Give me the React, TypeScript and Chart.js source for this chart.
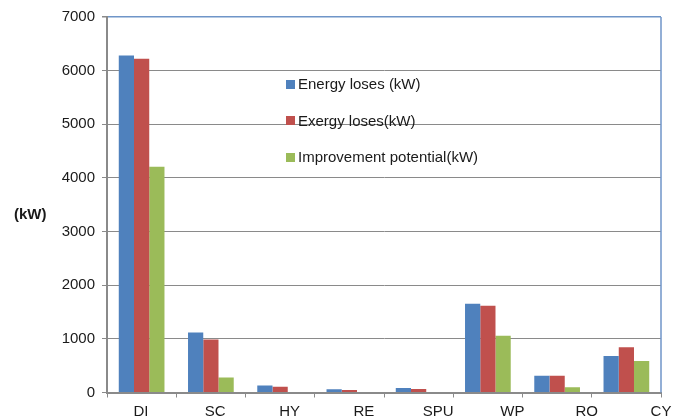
import React, { useEffect, useRef } from "react";
import { Chart, registerables } from "chart.js";

Chart.register(...registerables);

const categories = ["DI", "SC", "HY", "RE", "SPU", "WP", "RO", "CY"];
const energyLoses = [6280, 1120, 130, 60, 85, 1655, 310, 680];
const exergyLoses = [6220, 990, 105, 47, 65, 1615, 310, 845];
const improvementPotential = [4210, 280, 0, 0, 0, 1060, 100, 585];
const yTicks = [0, 1000, 2000, 3000, 4000, 5000, 6000, 7000];

const seriesNames = ["Energy loses (kW)", "Exergy loses(kW)", "Improvement potential(kW)"];
const seriesColors = ["#4F81BD", "#C0504D", "#9BBB59"];

const FONT = "'Liberation Sans', Arial, sans-serif";
const TEXT = "#1a1a1a";
const GRID = "#8a8a8a";
const FRAME = "#6f95c8";

export default function App() {
  const ref = useRef<HTMLCanvasElement | null>(null);

  useEffect(() => {
    if (!ref.current) return;
    const framePlugin = {
      id: "frame",
      afterDraw(chart: any) {
        const { ctx, chartArea } = chart;
        ctx.save();
        ctx.strokeStyle = FRAME;
        ctx.lineWidth = 1.5;
        ctx.beginPath();
        ctx.moveTo(chartArea.right, chartArea.top);
        ctx.lineTo(chartArea.right, chartArea.bottom);
        ctx.stroke();
        ctx.restore();
      },
    };
    const chart = new Chart(ref.current, {
      type: "bar",
      data: {
        labels: categories,
        datasets: [energyLoses, exergyLoses, improvementPotential].map((d, i) => ({
          label: seriesNames[i],
          data: d,
          backgroundColor: seriesColors[i],
          borderWidth: 0,
          categoryPercentage: 0.66,
          barPercentage: 1.0,
        })),
      },
      options: {
        responsive: false,
        animation: false,
        layout: { padding: { left: 0, right: 22, top: 17, bottom: 0 } },
        plugins: { legend: { display: false }, tooltip: { enabled: false } },
        scales: {
          x: {
            type: "category",
            position: "bottom",
            weight: 0,
            ticks: { display: false },
            grid: {
              display: true,
              drawOnChartArea: false,
              drawTicks: true,
              tickLength: 5,
              color: GRID,
              offset: true,
            },
            border: { display: true, color: GRID, width: 2 },
            afterFit: (s: any) => {
              s.height = 5;
            },
          },
          x2: {
            type: "linear",
            position: "bottom",
            weight: 1,
            offset: false,
            min: -0.4576,
            max: 7,
            afterBuildTicks: (s: any) => {
              s.ticks = categories.map((_, i) => ({ value: i }));
            },
            ticks: {
              autoSkip: false,
              maxRotation: 0,
              padding: -3,
              font: { family: FONT, size: 15 },
              color: TEXT,
              callback: (v: any) => categories[Math.round(Number(v))] ?? "",
            },
            grid: { display: false, offset: false },
            border: { display: false },
            afterFit: (s: any) => {
              s.height = 20.5;
            },
          },
          y: {
            min: 0,
            max: 7000,
            afterBuildTicks: (s: any) => {
              s.ticks = yTicks.map((v) => ({ value: v }));
            },
            ticks: {
              padding: 7,
              font: { family: FONT, size: 15 },
              color: TEXT,
              callback: (v: any) => String(v),
            },
            grid: {
              color: (c: any) => (c.tick && c.tick.value === 7000 ? FRAME : GRID),
              tickColor: GRID,
              tickLength: 5,
              lineWidth: (c: any) => (c.tick && c.tick.value === 7000 ? 1.5 : 1),
            },
            border: { display: true, color: GRID, width: 2 },
            afterFit: (s: any) => {
              s.width = 107;
            },
          },
        },
      },
      plugins: [framePlugin],
    } as any);
    return () => chart.destroy();
  }, []);

  const rowCenters = [84.3, 120.7, 157.3];

  return (
    <div style={{ position: "absolute", left: 0, top: 0, width: 683, height: 418, background: "#fff" }}>
      <canvas ref={ref} width={683} height={418} style={{ display: "block" }} />
      <div
        style={{
          position: "absolute",
          left: 14,
          top: 205,
          fontFamily: FONT,
          fontSize: 15,
          fontWeight: "bold",
          color: TEXT,
          lineHeight: "18px",
        }}
      >
        (kW)
      </div>
      {seriesNames.map((name, i) => (
        <div
          key={name}
          style={{
            position: "absolute",
            left: 286,
            top: rowCenters[i] - 9,
            height: 18,
            display: "flex",
            alignItems: "center",
            fontFamily: FONT,
            fontSize: 15,
            color: TEXT,
            lineHeight: "18px",
            whiteSpace: "nowrap",
          }}
        >
          <span style={{ display: "inline-block", width: 9, height: 9, background: seriesColors[i], marginRight: 3 }} />
          <span>{name}</span>
        </div>
      ))}
    </div>
  );
}
